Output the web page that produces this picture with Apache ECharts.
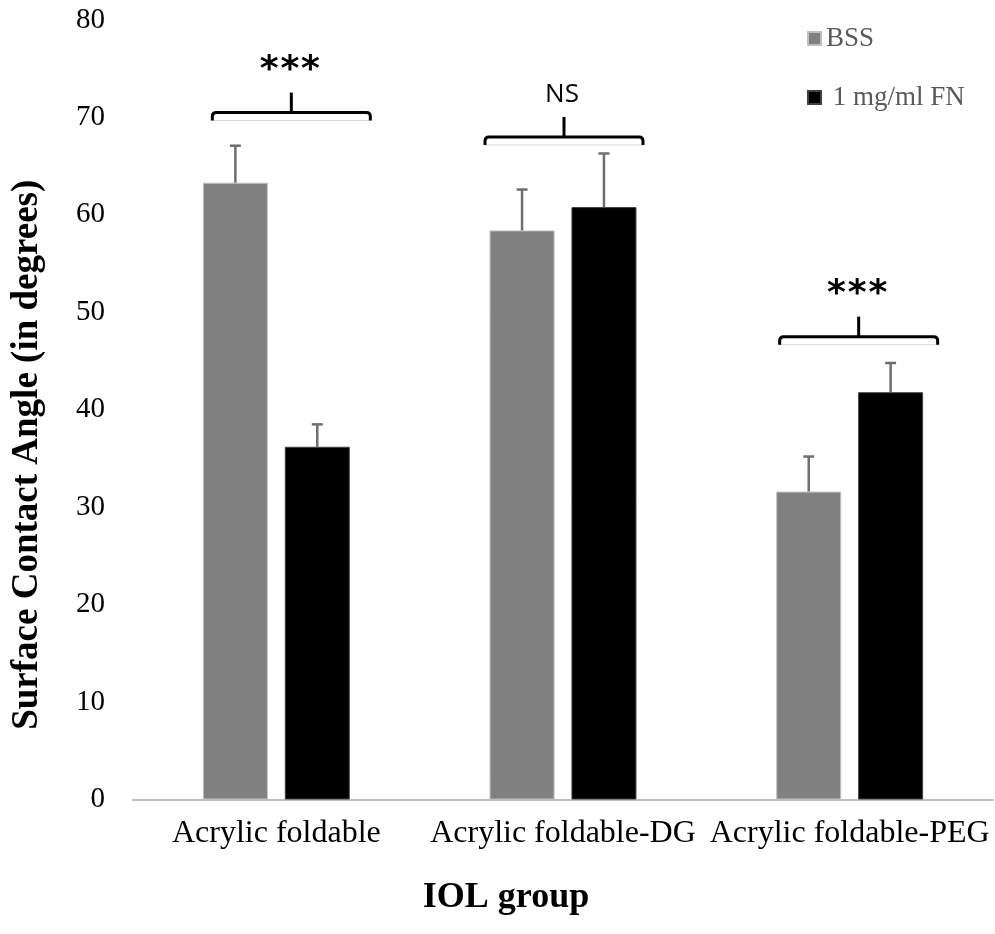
<!DOCTYPE html>
<html>
<head>
<meta charset="utf-8">
<script src="https://cdn.jsdelivr.net/npm/echarts@6/dist/echarts.min.js"></script>
<style>
  html, body { margin: 0; padding: 0; background: #ffffff; }
  #chart { width: 995px; height: 934px; }
</style>
</head>
<body>
<div id="chart"></div>
<script>
// ---------- data ----------
const categories = ['Acrylic foldable', 'Acrylic foldable-DG', 'Acrylic foldable-PEG'];
const seriesNames = ['BSS', '1 mg/ml FN'];
const bssValues = [63.3, 58.4, 31.6];
const bssErrors = [3.8, 4.2, 3.6];
const fnValues = [36.2, 60.8, 41.8];
const fnErrors = [2.3, 5.5, 3.0];
const yTicks = [0, 10, 20, 30, 40, 50, 60, 70, 80];
const sigCategories = [0, 1, 2];
const sigLevels = [70.5, 68.0, 47.5];
const sigLabels = ['***', 'NS', '***'];

// ---------- styling ----------
const BAR_W = 65;
const GAP_RATIO = 0.26;
const BAR_OFFSET = BAR_W * (1 + GAP_RATIO) / 2;
const bracketShift = [15, 1, 9];   // px shift of each bracket from category centre
const SERIF = '"Liberation Serif", "Times New Roman", serif';

const chart = echarts.init(document.getElementById('chart'), null, { renderer: 'canvas' });

function errorRenderer(sign) {
  return function (params, api) {
    const idx = api.value(0);
    const val = api.value(1);
    const err = api.value(2);
    const base = api.coord([idx, val]);
    const top = api.coord([idx, val + err]);
    const x = base[0] + sign * BAR_OFFSET;
    const st = { stroke: '#6e6e6e', lineWidth: 2.5 };
    return {
      type: 'group',
      children: [
        { type: 'line', shape: { x1: x, y1: base[1], x2: x, y2: top[1] }, style: st },
        { type: 'line', shape: { x1: x - 5.5, y1: top[1], x2: x + 5.5, y2: top[1] }, style: st }
      ]
    };
  };
}

function bracketRenderer(params, api) {
  const i = params.dataIndex;
  const p = api.coord([api.value(0), api.value(1)]);
  const cx = p[0] + bracketShift[i];
  const y = p[1];
  const hw = 79, drop = 8, r = 4;
  const label = sigLabels[i];
  const children = [
    {
      type: 'line',
      shape: { x1: cx - hw, y1: y + drop, x2: cx + hw, y2: y + drop },
      style: { stroke: '#d9d9d9', lineWidth: 1 }
    },
    {
      type: 'path',
      shape: {
        pathData: 'M' + (cx - hw) + ' ' + (y + drop) +
          ' L' + (cx - hw) + ' ' + (y + r) +
          ' Q' + (cx - hw) + ' ' + y + ' ' + (cx - hw + r) + ' ' + y +
          ' L' + (cx + hw - r) + ' ' + y +
          ' Q' + (cx + hw) + ' ' + y + ' ' + (cx + hw) + ' ' + (y + r) +
          ' L' + (cx + hw) + ' ' + (y + drop)
      },
      style: { stroke: '#000', lineWidth: 3, fill: null }
    },
    {
      type: 'line',
      shape: { x1: cx, y1: y, x2: cx, y2: y - 20 },
      style: { stroke: '#000', lineWidth: 3 }
    }
  ];
  if (label.indexOf('*') >= 0) {
    const n = label.length;
    for (let k = 0; k < n; k++) {
      children.push({
        type: 'text',
        x: cx - 1.5 + (k - (n - 1) / 2) * 20.7,
        y: y - 42,
        style: {
          text: '*', fill: '#000', font: 'bold 36px "DejaVu Sans", sans-serif',
          textAlign: 'center', textVerticalAlign: 'middle'
        }
      });
    }
  } else {
    children.push({
      type: 'text',
      x: cx - 2,
      y: y - 42,
      style: {
        text: label, fill: '#000', font: '26px "Open Sans", sans-serif',
        textAlign: 'center', textVerticalAlign: 'middle'
      }
    });
  }
  return { type: 'group', children: children };
}

const option = {
  backgroundColor: '#ffffff',
  animation: false,
  grid: {
    left: 133, right: 2, top: 20, bottom: 134.5,
    containLabel: false, outerBoundsMode: 'none'
  },
  legend: {
    orient: 'vertical',
    left: 802,
    top: 20,
    itemWidth: 13,
    itemHeight: 13,
    itemGap: 32,
    icon: 'rect',
    data: seriesNames,
    formatter: function (name) { return name === 'BSS' ? name : ' ' + name; },
    textStyle: { fontFamily: SERIF, fontSize: 27, color: '#595959' }
  },
  xAxis: {
    type: 'category',
    data: categories,
    name: 'IOL group',
    nameLocation: 'middle',
    nameGap: 80,
    nameTextStyle: {
      fontFamily: SERIF, fontSize: 36, fontWeight: 'bold', color: '#000',
      padding: [0, 114, 0, 0]
    },
    axisLine: { lineStyle: { color: '#bfbfbf', width: 2 } },
    axisTick: { show: false },
    axisLabel: {
      fontFamily: SERIF, fontSize: 32, color: '#000', margin: 18, interval: 0
    },
    splitLine: { show: false }
  },
  yAxis: {
    type: 'value',
    min: yTicks[0],
    max: yTicks[yTicks.length - 1],
    interval: yTicks[1] - yTicks[0],
    name: 'Surface Contact Angle (in degrees)',
    nameLocation: 'middle',
    nameRotate: 90,
    nameGap: 87,
    nameTextStyle: {
      fontFamily: SERIF, fontSize: 37, fontWeight: 'bold', color: '#000',
      padding: [0, 90, 0, 0]
    },
    axisLine: { show: false },
    axisTick: { show: false },
    splitLine: { show: false },
    axisLabel: { fontFamily: SERIF, fontSize: 29, color: '#000', margin: 28 }
  },
  series: [
    {
      name: seriesNames[0],
      type: 'bar',
      data: bssValues,
      barWidth: BAR_W,
      barGap: (GAP_RATIO * 100) + '%',
      itemStyle: { color: '#808080', borderColor: '#bfbfbf', borderWidth: 1 }
    },
    {
      name: seriesNames[1],
      type: 'bar',
      data: fnValues,
      barWidth: BAR_W,
      itemStyle: { color: '#000000', borderColor: '#404040', borderWidth: 1 }
    },
    {
      type: 'custom',
      name: 'bssErr',
      renderItem: errorRenderer(-1),
      data: bssValues.map((v, i) => [i, v, bssErrors[i]]),
      z: 5,
      silent: true
    },
    {
      type: 'custom',
      name: 'fnErr',
      renderItem: errorRenderer(1),
      data: fnValues.map((v, i) => [i, v, fnErrors[i]]),
      z: 5,
      silent: true
    },
    {
      type: 'custom',
      name: 'sig',
      renderItem: bracketRenderer,
      data: sigCategories.map((c, i) => [c, sigLevels[i]]),
      z: 6,
      silent: true
    }
  ]
};

chart.setOption(option);
</script>
</body>
</html>
